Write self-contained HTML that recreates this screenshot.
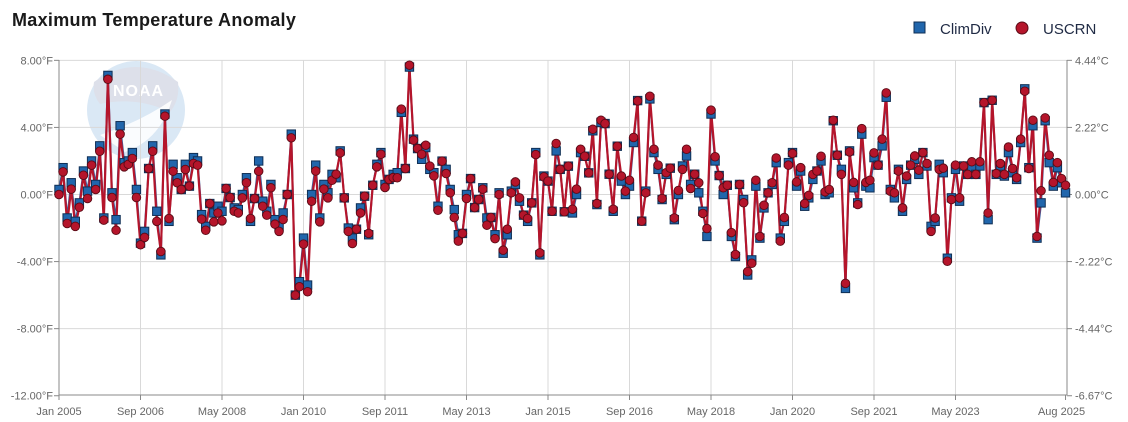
<!DOCTYPE html>
<html><head><meta charset="utf-8">
<style>
html,body{margin:0;padding:0;background:#fff;}
svg{display:block;font-family:"Liberation Sans",sans-serif;}
</style></head>
<body>
<svg id="c" width="1128" height="422" viewBox="0 0 1128 422" xmlns="http://www.w3.org/2000/svg">
<rect width="1128" height="422" fill="#fff"/>
<text x="12" y="26" font-size="18" font-weight="bold" fill="#1a1a1a" letter-spacing="0.3">Maximum Temperature Anomaly</text>
<rect x="914" y="22" width="11" height="11" fill="#2166ac" stroke="#0f2f55" stroke-width="1"/>
<text x="940" y="34" font-size="15" fill="#1f2a44">ClimDiv</text>
<circle cx="1022" cy="28" r="6" fill="#b5152b" stroke="#5a0a15" stroke-width="1"/>
<text x="1043" y="34" font-size="15" fill="#1f2a44">USCRN</text>
<g id="logo">
<circle cx="136" cy="110" r="49" fill="#dae8f5"/>
<path d="M94,82 Q136,52 178,82 Q180,100 170,112 Q136,96 100,104 Q92,94 94,82 Z" fill="#dde0ea"/>
<text x="113" y="96" font-size="16" font-weight="bold" fill="#fff" letter-spacing="1">NOAA</text>
<path d="M100,135 Q140,122 172,100 Q160,140 125,152 Z" fill="#fff" opacity="0.85"/>
</g>
<g id="grid" stroke="#d9d9d9" stroke-width="1"></g>
<g id="axes"></g>
<g id="series"></g>
</svg>
<script>
var red=[0,1.35,-1.73,0.32,-1.9,-0.76,1.15,-0.24,1.75,0.3,2.58,-1.53,6.87,-0.18,-2.13,3.6,1.65,1.8,2.15,-0.18,-3.0,-2.56,1.55,2.58,-1.6,-3.4,4.67,-1.43,1.39,0.7,0.3,1.49,0.5,1.85,1.75,-1.47,-2.13,-0.54,-1.63,-1.1,-1.57,0.36,-0.18,-1.0,-1.1,-0.2,0.7,-1.43,-0.24,1.39,-0.7,-1.23,0.4,-1.77,-2.2,-1.49,0,3.38,-6.0,-5.5,-2.96,-5.8,-0.4,
1.4,-1.63,0.32,-0.2,0.85,1.21,2.48,-0.2,-2.2,-2.92,-2.07,-1.1,-0.1,-2.32,0.55,1.65,2.4,0.42,0.9,1.01,1.0,5.09,1.55,7.71,3.24,2.74,2.4,2.94,1.69,1.11,-0.94,1.99,1.25,0.1,-1.37,-2.78,-2.32,-0.24,0.95,-0.78,-0.3,0.32,-1.83,-1.37,-2.63,0,-3.32,-2.07,0.1,0.75,-0.2,-1.23,-1.43,-0.5,2.38,-3.48,1.05,0.8,-1.0,3.04,
1.5,-1.03,1.69,-0.88,0.32,2.7,2.28,1.29,3.89,-0.54,4.43,4.23,1.21,-0.88,2.88,1.1,0.2,0.85,3.4,5.58,-1.59,0.1,5.86,2.7,1.75,-0.24,1.3,1.57,-1.4,0.24,1.5,2.7,0.36,1.21,0.7,-1.13,-2.03,5.03,2.25,1.13,0.4,0.55,-2.27,-3.58,0.6,-0.49,-4.6,-4.1,0.85,-2.5,-0.64,0.1,0.7,2.18,-2.78,-1.37,1.75,2.45,0.75,1.6,-0.54,-0.05,1.2,
1.4,2.28,0.16,0.3,4.43,2.34,1.2,-5.3,2.54,0.72,-0.6,3.93,0.72,0.85,2.48,1.75,3.3,6.06,0.2,0.1,1.4,-0.8,1.1,1.75,2.3,1.45,2.5,1.85,-2.2,-1.4,1.5,1.57,-3.98,-0.3,1.75,-0.2,1.7,1.2,1.95,1.2,1.95,5.48,-1.1,5.62,1.25,1.85,1.2,2.83,1.55,1.0,3.3,6.16,1.55,4.43,-2.5,0.22,4.57,2.34,0.72,1.9,0.95,0.55];
var dblue={0:0.3,1:1.6,2:-1.4,3:0.7,4:-1.6,5:-0.5,6:1.4,7:0.2,8:2.0,9:0.6,10:2.9,11:-1.4,12:7.1,13:0.1,14:-1.5,15:4.1,16:1.9,17:2.0,18:2.5,19:0.3,20:-2.9,21:-2.2,23:2.9,24:-1.0,25:-3.6,26:4.8,27:-1.6,28:1.8,29:1.0,31:1.8,33:2.2,34:2.0,35:-1.2,36:-1.9,38:-1.1,39:-0.7,40:-1.0,43:-0.8,44:-0.9,45:0,46:1.0,47:-1.6,49:2.0,50:-0.4,51:-1.0,52:0.6,53:-1.5,54:-1.9,55:-1.1,57:3.6,59:-5.2,60:-2.6,61:-5.4,62:0,63:1.75,64:-1.4,65:0.6,66:0.1,67:1.2,68:1.0,69:2.6,71:-2.0,72:-2.6,74:-0.8,76:-2.4,78:1.8,79:2.5,80:0.6,82:1.2,83:1.3,84:4.9,86:7.6,87:3.3,89:2.1,90:2.8,91:1.5,92:1.3,93:-0.7,95:1.5,96:0.3,97:-0.9,98:-2.4,100:0,104:0.4,105:-1.4,107:-2.4,108:0.1,109:-3.5,110:-2.4,111:0.2,112:0.6,113:-0.4,115:-1.6,117:2.5,118:-3.6,119:1.1,122:2.6,126:-1.1,127:0,128:2.5,131:3.8,132:-0.6,133:4.3,136:-1.0,138:0.8,139:0,140:0.5,141:3.1,142:5.6,144:0.2,145:5.7,146:2.5,147:1.5,148:-0.3,149:1.2,151:-1.5,152:0,153:1.7,154:2.3,155:0.6,157:0.1,158:-1.0,159:-2.5,160:4.8,161:2.0,163:0,165:-2.5,166:-3.7,168:-0.3,169:-4.8,170:-3.9,171:0.5,172:-2.6,173:-0.8,175:0.6,176:1.9,177:-2.6,178:-1.6,179:1.9,180:2.5,181:0.5,182:1.4,183:-0.7,184:-0.2,185:0.9,187:2.0,188:0,189:0.1,190:4.4,192:1.5,193:-5.6,194:2.6,195:0.4,196:-0.5,197:3.6,198:0.5,199:0.4,200:2.2,202:2.9,203:5.8,204:0.3,205:-0.2,206:1.5,207:-1.0,208:0.9,210:2.1,211:1.2,213:1.7,214:-1.9,215:-1.6,216:1.8,217:1.3,218:-3.8,219:-0.2,220:1.5,221:-0.4,224:1.6,226:1.7,228:-1.5,230:1.2,231:1.7,232:1.1,233:2.5,234:1.3,235:0.9,236:3.1,237:6.3,238:1.6,239:4.1,240:-2.6,241:-0.5,242:4.4,243:1.9,244:0.5,245:1.6,246:0.7,247:0.1};
var blue=red.map(function(v,i){return (i in dblue)?dblue[i]:v;});
function X(m){return 59+4.075*m;}
function Y(v){return 194.5-16.77*v;}
var NS="http://www.w3.org/2000/svg";
function el(t,a,p){var e=document.createElementNS(NS,t);for(var k in a)e.setAttribute(k,a[k]);(p||document.getElementById('c')).appendChild(e);return e;}
var g=document.getElementById('grid'),ax=document.getElementById('axes'),s=document.getElementById('series');
var yv=[8,4,0,-4,-8,-12],cl=["4.44°C","2.22°C","0.00°C","-2.22°C","-4.44°C","-6.67°C"];
yv.forEach(function(v,i){var y=Y(v);
 if(v>-12)el('line',{x1:59,x2:1067,y1:y,y2:y},g);
 el('line',{x1:54,x2:59,y1:y,y2:y,stroke:'#888'},ax);
 el('line',{x1:1067,x2:1072,y1:y,y2:y,stroke:'#888'},ax);
 var t=el('text',{x:53,y:y+4,'text-anchor':'end','font-size':11,fill:'#666'},ax);t.textContent=v.toFixed(2)+"°F";
 var t2=el('text',{x:1075,y:y+4,'font-size':11,fill:'#666'},ax);t2.textContent=cl[i];
});
var xl=["Jan 2005","Sep 2006","May 2008","Jan 2010","Sep 2011","May 2013","Jan 2015","Sep 2016","May 2018","Jan 2020","Sep 2021","May 2023"];
xl.forEach(function(l,i){var x=X(i*20);
 if(i>0)el('line',{x1:x,x2:x,y1:60,y2:395},g);
 el('line',{x1:x,x2:x,y1:395,y2:400,stroke:'#888'},ax);
 var t=el('text',{x:x,y:415,'text-anchor':'middle','font-size':11,fill:'#666'},ax);t.textContent=l;});
var xe=X(247);el('line',{x1:xe,x2:xe,y1:395,y2:400,stroke:'#888'},ax);
var t=el('text',{x:xe-4,y:415,'text-anchor':'middle','font-size':11,fill:'#666'},ax);t.textContent="Aug 2025";
el('line',{x1:59,x2:59,y1:60,y2:395,stroke:'#888'},ax);
el('line',{x1:1067,x2:1067,y1:60,y2:395,stroke:'#888'},ax);
el('line',{x1:59,x2:1067,y1:395,y2:395,stroke:'#888'},ax);
function pts(a){return a.map(function(v,i){return X(i).toFixed(1)+","+Y(v).toFixed(1);}).join(" ");}
el('polyline',{points:pts(blue),fill:'none',stroke:'#3b5f9e','stroke-width':2,'stroke-linejoin':'round'},s);
el('polyline',{points:pts(red),fill:'none',stroke:'#b5152b','stroke-width':2.2,'stroke-linejoin':'round'},s);
blue.forEach(function(v,i){el('rect',{x:X(i)-4.2,y:Y(v)-4.2,width:8.4,height:8.4,fill:'#2166ac',stroke:'#0f2f55','stroke-width':1},s);});
red.forEach(function(v,i){el('circle',{cx:X(i),cy:Y(v),r:4.3,fill:'#b5152b',stroke:'#5a0a15','stroke-width':0.9},s);});
</script>
</body></html>
